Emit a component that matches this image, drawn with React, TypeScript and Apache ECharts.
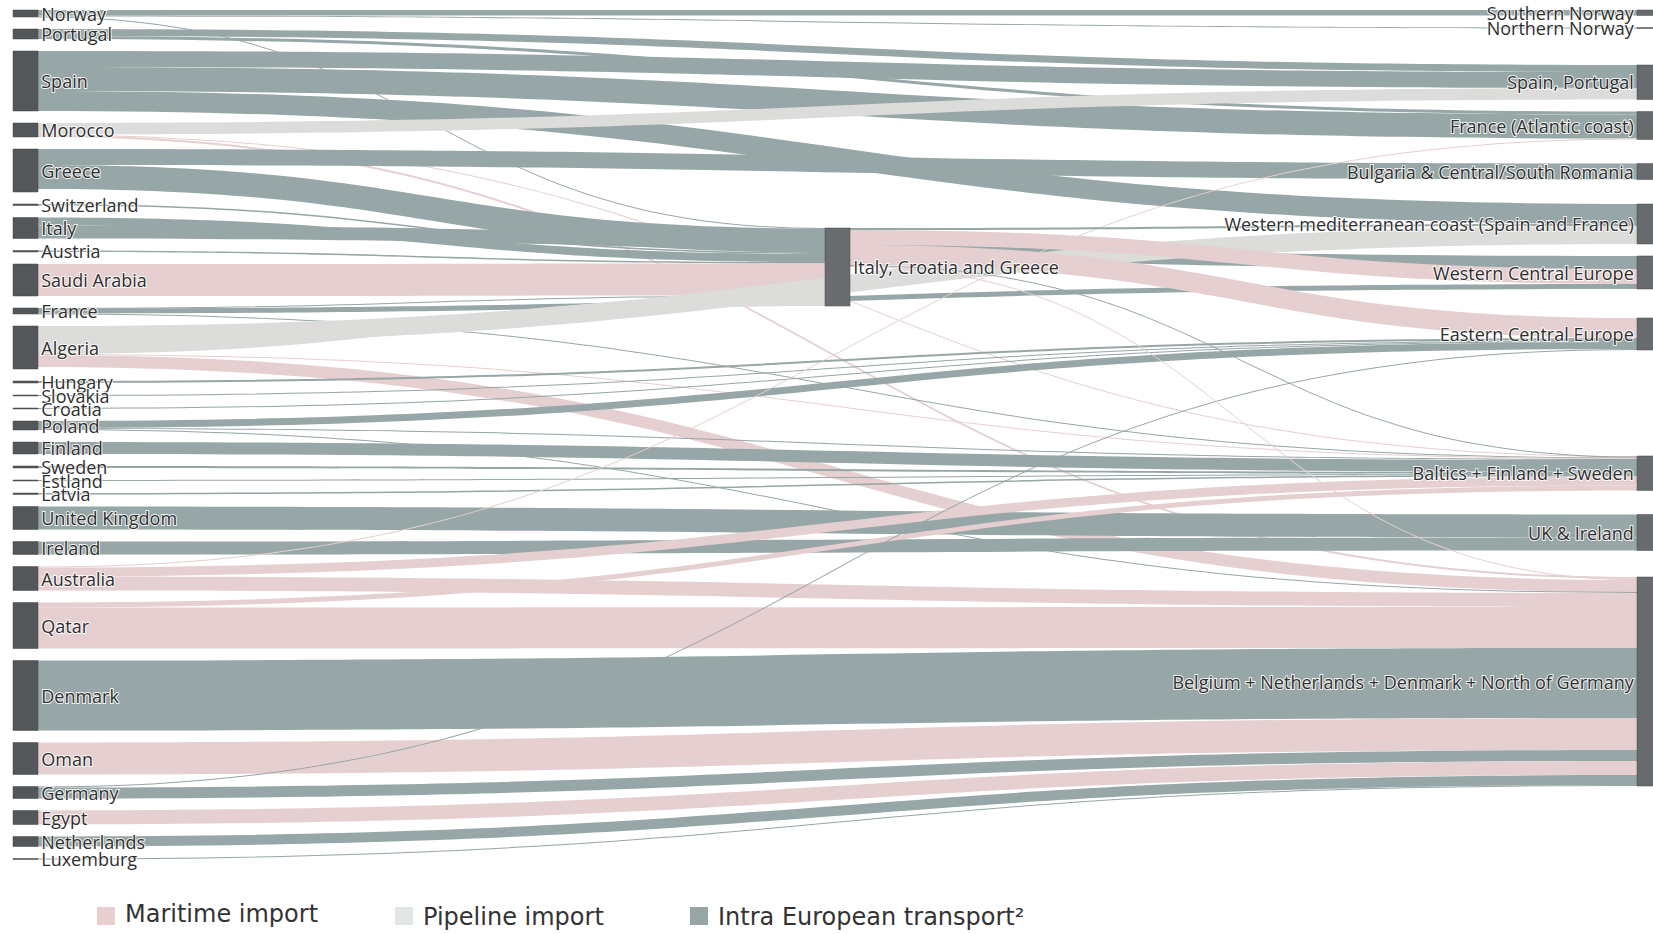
import React, { useEffect, useRef } from "react";
import * as echarts from "echarts";

// ---------- DATA ----------
const HUB = "Italy, Croatia and Greece";
const SNO = "Southern Norway";
const NNO = "Northern Norway";
const SPP = "Spain, Portugal";
const FAC = "France (Atlantic coast)";
const BGR = "Bulgaria & Central/South Romania";
const WMED = "Western mediterranean coast (Spain and France)";
const WCE = "Western Central Europe";
const ECE = "Eastern Central Europe";
const BALT = "Baltics + Finland + Sweden";
const UKI = "UK & Ireland";
const BENE = "Belgium + Netherlands + Denmark + North of Germany";

const sourceNodes = [
  "Norway", "Portugal", "Spain", "Morocco", "Greece", "Switzerland", "Italy", "Austria",
  "Saudi Arabia", "France", "Algeria", "Hungary", "Slovakia", "Croatia", "Poland", "Finland",
  "Sweden", "Estland", "Latvia", "United Kingdom", "Ireland", "Australia", "Qatar", "Denmark",
  "Oman", "Germany", "Egypt", "Netherlands", "Luxemburg",
];
const sourceTotals = [
  7, 10, 60, 14, 43, 1.5, 21, 1.5, 32, 6, 43, 2, 1, 1, 9, 12, 2, 1, 1.5, 23, 13, 24, 46, 70,
  32, 12, 14, 10, 1,
];
const targetNodes = [SNO, NNO, SPP, FAC, BGR, WMED, WCE, ECE, BALT, UKI, BENE];

const flowTypes = ["Maritime import", "Pipeline import", "Intra European transport²"];

// [source, target, value, type index: 0 maritime, 1 pipeline, 2 intra European]
const flows: [string, string, number, number][] = [
  ["Norway", SNO, 5.5, 2],
  ["Norway", NNO, 1, 2],
  ["Norway", HUB, 0.5, 2],
  ["Portugal", SPP, 7, 2],
  ["Portugal", FAC, 3, 2],
  ["Spain", SPP, 16, 2],
  ["Spain", FAC, 24, 2],
  ["Spain", WMED, 20, 2],
  ["Morocco", SPP, 11.5, 1],
  ["Morocco", BALT, 0.5, 0],
  ["Morocco", BENE, 2, 0],
  ["Greece", BGR, 16, 2],
  ["Greece", HUB, 24, 2],
  ["Switzerland", HUB, 1.5, 2],
  ["Italy", HUB, 8, 2],
  ["Italy", WCE, 13, 2],
  ["Austria", HUB, 1.5, 2],
  ["Saudi Arabia", HUB, 32, 0],
  ["France", HUB, 0.5, 2],
  ["France", WCE, 5, 2],
  ["France", BALT, 0.5, 2],
  ["Algeria", HUB, 10, 1],
  ["Algeria", WMED, 18, 1],
  ["Algeria", BALT, 1, 0],
  ["Algeria", BENE, 12, 0],
  ["Hungary", ECE, 2, 2],
  ["Slovakia", ECE, 1, 2],
  ["Croatia", ECE, 1, 2],
  ["Poland", ECE, 7, 2],
  ["Poland", BALT, 1, 2],
  ["Poland", BENE, 1, 2],
  ["Finland", BALT, 12, 2],
  ["Sweden", BALT, 2, 2],
  ["Estland", BALT, 1, 2],
  ["Latvia", BALT, 1.5, 2],
  ["United Kingdom", UKI, 23, 2],
  ["Ireland", UKI, 13, 2],
  ["Australia", FAC, 1, 0],
  ["Australia", BALT, 9, 0],
  ["Australia", BENE, 14, 0],
  ["Qatar", BALT, 5, 0],
  ["Qatar", BENE, 41, 0],
  ["Oman", BENE, 32, 0],
  ["Germany", ECE, 1, 2],
  ["Denmark", BENE, 70, 2],
  ["Germany", BENE, 11, 2],
  ["Egypt", BENE, 14, 0],
  ["Netherlands", BENE, 10, 2],
  ["Luxemburg", BENE, 1, 2],
  [HUB, WMED, 2, 2],
  [HUB, WCE, 15, 0],
  [HUB, ECE, 20, 0],
  [HUB, BALT, 1, 2],
  [HUB, BENE, 1, 0],
];

// ---------- LAYOUT / STYLE ----------
const NODE_GAP = 12;
const NODE_WIDTH = 25;
// invisible spacers that reproduce the vertical gaps of the original layout
const hubSpacerBefore = 206;
const spacerAfter: Record<string, number> = {
  [NNO]: 12.5,
  [FAC]: 0,
  [BGR]: 0.5,
  [WCE]: 5,
  [ECE]: 82,
  [BALT]: 0,
  [UKI]: 2.5,
};
const typeColors = ["#e6cfd0", "#dcdcda", "#97a6a6"];
const legendSwatch = ["#e8d0d1", "#e2e6e6", "#97a5a5"];
const legendX = [97, 395, 690];

function buildOption() {
  const outSum: Record<string, number> = {};
  flows.forEach(([s, , v]) => {
    outSum[s] = (outSum[s] || 0) + v;
  });
  const leftSum = sourceNodes.reduce(
    (acc, n, i) => acc + Math.max(sourceTotals[i], outSum[n] || 0),
    0
  );
  const H = leftSum + (sourceNodes.length - 1) * NODE_GAP;

  const spacer = (id: string, value: number, depth: number) => ({
    name: id,
    value,
    depth,
    itemStyle: { color: "rgba(0,0,0,0)", borderWidth: 0 },
    label: { show: false },
  });

  const nodes: any[] = [];
  sourceNodes.forEach((n, i) =>
    nodes.push({
      name: n,
      value: sourceTotals[i],
      depth: 0,
      itemStyle: { color: "#53575a", borderColor: "#444", borderWidth: 0.5 },
      label: { position: "right" },
    })
  );
  nodes.push(spacer("__hubSpacer", hubSpacerBefore, 1));
  nodes.push({
    name: HUB,
    depth: 1,
    itemStyle: { color: "#696d70", borderColor: "#4a4a4a", borderWidth: 0.5 },
    label: { position: "right" },
  });
  targetNodes.forEach((n, i) => {
    nodes.push({
      name: n,
      depth: 2,
      itemStyle: { color: "#676b6e", borderColor: "#4a4a4a", borderWidth: 0.5 },
      label: { position: "left" },
    });
    if (spacerAfter[n] !== undefined) nodes.push(spacer("__sp" + i, spacerAfter[n], 2));
  });

  const links = flows.map(([s, t, v, k]) => ({
    source: s,
    target: t,
    value: v,
    lineStyle: { color: typeColors[k], opacity: 1 },
  }));

  const graphic: any[] = [];
  flowTypes.forEach((name, i) => {
    graphic.push({
      type: "rect",
      shape: { x: legendX[i], y: 907, width: 18, height: 18 },
      style: { fill: legendSwatch[i] },
    });
    graphic.push({
      type: "text",
      style: {
        x: legendX[i] + 28,
        y: i === 0 ? 914 : 917,
        text: name,
        fontSize: 24,
        fontFamily: '"DejaVu Sans", Verdana, sans-serif',
        fill: "#333",
        verticalAlign: "middle",
      },
    });
  });

  return {
    animation: false,
    backgroundColor: "#ffffff",
    graphic,
    series: [
      {
        type: "sankey",
        left: 13,
        top: 10,
        width: 1649,
        height: H,
        nodeWidth: NODE_WIDTH,
        nodeGap: NODE_GAP,
        layoutIterations: 0,
        draggable: false,
        emphasis: { disabled: true },
        lineStyle: { curveness: 0.5, opacity: 1 },
        label: {
          fontFamily: '"Open Sans", sans-serif',
          fontSize: 18,
          color: "#2e2e2e",
          textBorderColor: "rgba(255,255,255,0.9)",
          textBorderWidth: 2,
          distance: 3,
        },
        data: nodes,
        links,
      },
    ],
  };
}

export default function App() {
  const ref = useRef<HTMLDivElement>(null);
  useEffect(() => {
    if (!ref.current) return;
    const chart = echarts.init(ref.current, undefined, { renderer: "svg" });
    chart.setOption(buildOption() as any);
    return () => chart.dispose();
  }, []);
  return (
    <div
      ref={ref}
      style={{ position: "fixed", left: 0, top: 0, width: 1653, height: 934, background: "#fff" }}
    />
  );
}
